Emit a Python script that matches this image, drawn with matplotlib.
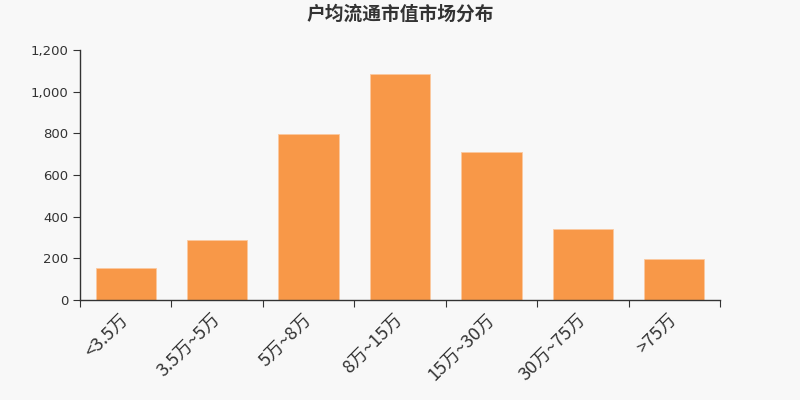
import matplotlib
matplotlib.use("Agg")
import matplotlib.pyplot as plt
from matplotlib.ticker import FuncFormatter

plt.rcParams['font.family'] = ['Noto Sans CJK SC', 'DejaVu Sans']

categories = ["<3.5万", "3.5万~5万", "5万~8万", "8万~15万", "15万~30万", "30万~75万", ">75万"]
values = [155, 288, 798, 1083, 710, 339, 195]
title = "户均流通市值市场分布"

bg = "#f8f8f8"
fig = plt.figure(figsize=(8, 4), dpi=100, facecolor=bg)
ax = fig.add_axes([0.1, 0.25, 0.8, 0.625], facecolor=bg)

x = list(range(len(categories)))
ax.bar(x, values, width=0.66, color="#f89848", edgecolor="#fbc9a0", linewidth=0.6, zorder=2)

ax.set_xlim(-0.5, len(categories) - 0.5)
ax.set_ylim(0, 1200)
ax.set_yticks(range(0, 1201, 200))
ax.yaxis.set_major_formatter(FuncFormatter(lambda v, p: f"{int(v):,}"))
for lab in ax.get_yticklabels():
    lab.set_fontfamily("DejaVu Sans")

ax.set_xticks([i - 0.5 for i in range(len(categories) + 1)], minor=False)
ax.set_xticklabels([])
ax.set_xticks(x, minor=True)
ax.set_xticklabels(categories, minor=True, rotation=45, ha="right", va="center",
                   rotation_mode="anchor", fontsize=13, color="#333333")
ax.tick_params(axis="x", which="minor", length=0, pad=12)
ax.tick_params(axis="x", which="major", length=5, color="#333333")
ax.tick_params(axis="y", length=5, color="#333333", labelsize=9.5, labelcolor="#333333")
for lab in ax.get_yticklabels():
    lab.set_fontfamily("DejaVu Sans")

for s in ["top", "right"]:
    ax.spines[s].set_visible(False)
for s in ["left", "bottom"]:
    ax.spines[s].set_color("#333333")
    ax.spines[s].set_linewidth(1)

fig.text(0.5, 0.965, title, ha="center", va="center", fontsize=13.5, fontweight="bold", color="#333333")

fig.savefig("out.png", dpi=100, facecolor=bg)
